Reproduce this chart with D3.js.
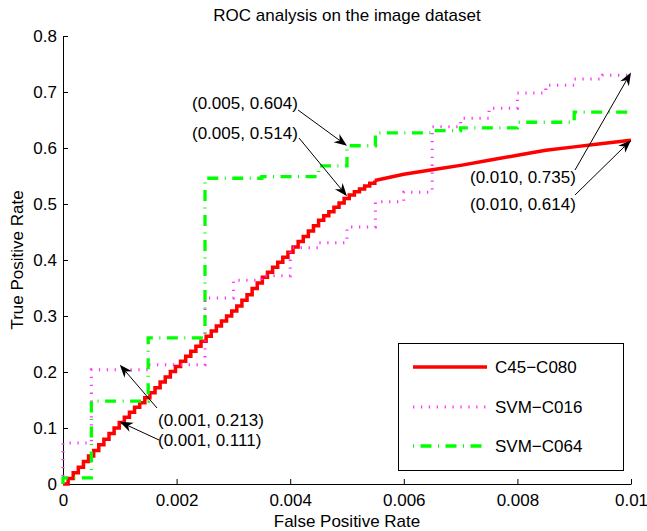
<!DOCTYPE html>
<html>
<head>
<meta charset="utf-8">
<script src="https://cdn.jsdelivr.net/npm/d3@7"></script>
<style>
  body { margin: 0; background: #fff; }
  svg { display: block; }
  text { font-family: "Liberation Sans", Arial, Helvetica, sans-serif; fill: #000; }
</style>
</head>
<body>
<svg id="chart" width="647" height="531"></svg>
<script>
// ---- chart text ----
const chartTitle = "ROC analysis on the image dataset";
const xAxisTitle = "False Positive Rate";
const yAxisTitle = "True Positive Rate";

// ---- ticks ----
const xTickValues = [0, 0.002, 0.004, 0.006, 0.008, 0.01];
const xTickLabels = ["0", "0.002", "0.004", "0.006", "0.008", "0.01"];
const yTickValues = [0, 0.1, 0.2, 0.3, 0.4, 0.5, 0.6, 0.7, 0.8];
const yTickLabels = ["0", "0.1", "0.2", "0.3", "0.4", "0.5", "0.6", "0.7", "0.8"];

// ---- series names ----
const seriesNames = ["C45\u2212C080", "SVM\u2212C016", "SVM\u2212C064"];

// ---- C45-C080: fine staircase part (FPR, TPR) ----
const c45StepFpr = [
  0, 0.00009, 0.00018, 0.00027, 0.00036, 0.00045, 0.00054, 0.00063, 0.00072, 0.00081,
  0.00090, 0.00099, 0.00108, 0.00117, 0.00126, 0.00135, 0.00144, 0.00153, 0.00162, 0.00171,
  0.00180, 0.00189, 0.00198, 0.00207, 0.00216, 0.00225, 0.00234, 0.00243, 0.00252, 0.00261,
  0.00270, 0.00279, 0.00288, 0.00297, 0.00306, 0.00315, 0.00324, 0.00333, 0.00342, 0.00351,
  0.00360, 0.00369, 0.00378, 0.00387, 0.00396, 0.00405, 0.00414, 0.00423, 0.00432, 0.00441,
  0.00450, 0.00459, 0.00468, 0.00477, 0.00486, 0.00495, 0.00504, 0.00513, 0.00522, 0.00531,
  0.00540, 0.00549
];
const c45StepTpr = [
  0, 0.010, 0.020, 0.030, 0.040, 0.050, 0.060, 0.070, 0.080, 0.090,
  0.100, 0.110, 0.119, 0.128, 0.137, 0.145, 0.154, 0.163, 0.172, 0.182,
  0.191, 0.201, 0.210, 0.219, 0.228, 0.237, 0.246, 0.255, 0.264, 0.273,
  0.282, 0.291, 0.300, 0.309, 0.318, 0.328, 0.338, 0.349, 0.359, 0.369,
  0.378, 0.387, 0.396, 0.405, 0.414, 0.423, 0.433, 0.442, 0.452, 0.461,
  0.471, 0.479, 0.486, 0.494, 0.502, 0.510, 0.516, 0.522, 0.527, 0.532,
  0.537, 0.542
];
// ---- C45-C080: smooth tail ----
const c45TailFpr = [0.00549, 0.006, 0.0065, 0.007, 0.0075, 0.008, 0.0085, 0.009, 0.0095, 0.01];
const c45TailTpr = [0.542, 0.553, 0.561, 0.569, 0.578, 0.587, 0.596, 0.602, 0.608, 0.614];

// ---- SVM-C016 step corners ----
const svm016Fpr = [0, 0, 0.0005, 0.0015, 0.0025, 0.003, 0.0035, 0.004, 0.0045, 0.005,
  0.0055, 0.006, 0.0065, 0.007, 0.0075, 0.008, 0.0085, 0.009, 0.0095, 0.01];
const svm016Tpr = [0, 0.073, 0.204, 0.213, 0.332, 0.364, 0.372, 0.422, 0.431, 0.459,
  0.504, 0.521, 0.638, 0.653, 0.671, 0.698, 0.712, 0.723, 0.730, 0.735];

// ---- SVM-C064 step corners ----
const svm064Fpr = [0, 0, 0.0005, 0.0015, 0.0025, 0.0035, 0.0045, 0.005, 0.0055, 0.0065,
  0.007, 0.008, 0.009, 0.01];
const svm064Tpr = [0, 0.011, 0.148, 0.261, 0.546, 0.549, 0.568, 0.604, 0.627, 0.631,
  0.636, 0.646, 0.664, 0.664];

// ---- annotated points ----
const calloutFpr = [0.005, 0.005, 0.010, 0.010, 0.001, 0.001];
const calloutTpr = [0.604, 0.514, 0.735, 0.614, 0.213, 0.111];

// ---------------------------------------------------------------
const svg = d3.select("#chart");
svg.append("rect").attr("width", 647).attr("height", 531).attr("fill", "#fff");

const margin = { left: 63, top: 36 };
const plotW = 568, plotH = 448;
const FONT = 17;

const x = d3.scaleLinear().domain([0, 0.01]).range([0, plotW]);
const y = d3.scaleLinear().domain([0, 0.8]).range([plotH, 0]);

const g = svg.append("g").attr("transform", `translate(${margin.left},${margin.top})`);

// axes (inward ticks, no box)
const xAxis = d3.axisBottom(x)
  .tickValues(xTickValues)
  .tickFormat((d, i) => xTickLabels[i])
  .tickSizeInner(-5).tickSizeOuter(0).tickPadding(10);
const yAxis = d3.axisLeft(y)
  .tickValues(yTickValues)
  .tickFormat((d, i) => yTickLabels[i])
  .tickSizeInner(-5).tickSizeOuter(0).tickPadding(6);

const gx = g.append("g").attr("transform", `translate(0,${plotH})`).call(xAxis);
const gy = g.append("g").call(yAxis);
[gx, gy].forEach(a => {
  a.selectAll("path.domain").attr("stroke", "#000").attr("stroke-width", 1);
  a.selectAll(".tick line").attr("stroke", "#000").attr("stroke-width", 1);
  a.selectAll(".tick text")
    .attr("fill", "#000")
    .style("font-family", '"Liberation Sans", Arial, sans-serif')
    .style("font-size", FONT + "px");
});

// titles
svg.append("text").attr("x", margin.left + plotW / 2).attr("y", 21)
  .attr("text-anchor", "middle").style("font-size", FONT + "px").text(chartTitle);
svg.append("text").attr("x", margin.left + plotW / 2).attr("y", 527)
  .attr("text-anchor", "middle").style("font-size", FONT + "px").text(xAxisTitle);
svg.append("text")
  .attr("transform", `translate(23,${margin.top + plotH / 2}) rotate(-90)`)
  .attr("text-anchor", "middle").style("font-size", FONT + "px").text(yAxisTitle);

// line styles
const styles = [
  { stroke: "#ff0000", width: 3.5, dash: null },
  { stroke: "#ff33ff", width: 3, dash: "1.3,6.6" },
  { stroke: "#00ff00", width: 3.3, dash: "11,6.5,1,6.5" }
];

function zipPts(xs, ys) { return xs.map((v, i) => [v, ys[i]]); }

const stepLine = d3.line().x(d => x(d[0])).y(d => y(d[1])).curve(d3.curveStepAfter);
const plainLine = d3.line().x(d => x(d[0])).y(d => y(d[1]));

function drawPath(data, gen, st) {
  g.append("path")
    .attr("d", gen(data))
    .attr("fill", "none")
    .attr("stroke", st.stroke)
    .attr("stroke-width", st.width)
    .attr("stroke-dasharray", st.dash)
    .attr("stroke-linejoin", "miter")
    .attr("stroke-linecap", "butt");
}

// C45-C080
drawPath(zipPts(c45StepFpr, c45StepTpr), stepLine, styles[0]);
drawPath(zipPts(c45TailFpr, c45TailTpr), plainLine, styles[0]);
// SVM-C016
drawPath(zipPts(svm016Fpr, svm016Tpr), stepLine, styles[1]);
// SVM-C064
drawPath(zipPts(svm064Fpr, svm064Tpr), stepLine, styles[2]);

// callouts: text anchor and arrow tail positions in pixels
const calloutLayout = [
  { tx: 192, ty: 109, sx: 298, sy: 110 },
  { tx: 192, ty: 139, sx: 299, sy: 138 },
  { tx: 470, ty: 183, sx: 575, sy: 170 },
  { tx: 470, ty: 210, sx: 575, sy: 195 },
  { tx: 158, ty: 426, sx: 157, sy: 408 },
  { tx: 158, ty: 446, sx: 159, sy: 440 }
];
const f3 = d3.format(".3f");
const ann = svg.append("g");
calloutFpr.forEach((fx, i) => {
  const L = calloutLayout[i];
  const tipX = margin.left + x(fx), tipY = margin.top + y(calloutTpr[i]);
  const dx = tipX - L.sx, dy = tipY - L.sy;
  const len = Math.hypot(dx, dy);
  const ux = dx / len, uy = dy / len, nx = -uy, ny = ux;
  const HL = 13, HW = 10;
  const bx = tipX - ux * HL, by = tipY - uy * HL;
  const notchX = tipX - ux * HL * 0.7, notchY = tipY - uy * HL * 0.7;
  ann.append("line")
    .attr("x1", L.sx).attr("y1", L.sy).attr("x2", notchX).attr("y2", notchY)
    .attr("stroke", "#000").attr("stroke-width", 1);
  ann.append("path")
    .attr("d", `M${tipX},${tipY}L${bx + nx * HW / 2},${by + ny * HW / 2}L${notchX},${notchY}L${bx - nx * HW / 2},${by - ny * HW / 2}Z`)
    .attr("fill", "#000");
  ann.append("text").attr("x", L.tx).attr("y", L.ty)
    .style("font-size", FONT + "px")
    .text(`(${f3(fx)}, ${f3(calloutTpr[i])})`);
});

// legend
const leg = svg.append("g");
leg.append("rect").attr("x", 398.5).attr("y", 343.5).attr("width", 225).attr("height", 127)
  .attr("fill", "#fff").attr("stroke", "#000").attr("stroke-width", 1);
const legRows = [367, 407, 446];
const legendDash = [null, "1.3,6.6", "1,6.5,11,6.5"];
seriesNames.forEach((name, i) => {
  const st = styles[i];
  leg.append("line")
    .attr("x1", 413).attr("x2", 487).attr("y1", legRows[i]).attr("y2", legRows[i])
    .attr("stroke", st.stroke).attr("stroke-width", st.width)
    .attr("stroke-dasharray", legendDash[i]);
  leg.append("text").attr("x", 495).attr("y", legRows[i] + 6)
    .style("font-size", FONT + "px").text(name);
});
</script>
</body>
</html>
